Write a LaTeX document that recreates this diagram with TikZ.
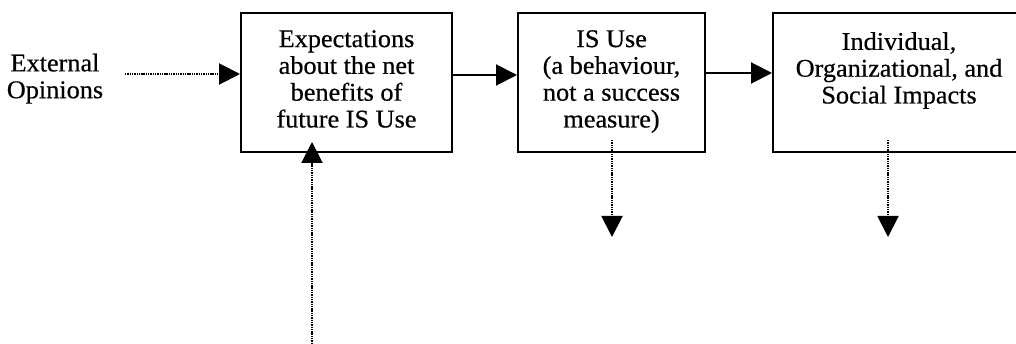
\documentclass[tikz,border=0pt]{standalone}
\usepackage{fontspec}
\setmainfont{Liberation Serif}[FakeStretch=1.03,FakeBold=0.5]
\usetikzlibrary{arrows.meta}
\begin{document}
\begin{tikzpicture}[x=1pt,y=-1pt,
  box/.style={draw,line width=2pt,inner sep=0pt},
  txt/.style={align=center,inner sep=0pt,font=\fontsize{25.5}{26.8}\selectfont},
  tip/.style={-{Triangle[length=21pt,width=21pt]}},
  solidarr/.style={line width=2pt,tip},
  dotarr/.style={line width=2pt,dash pattern=on 1.4pt off 0.9pt,tip}]
\useasboundingbox (0,0) rectangle (1016,344);
\node[box,minimum width=211pt,minimum height=139pt] (b1) at (346.5,82.5) {};
\node[box,minimum width=187pt,minimum height=139pt] (b2) at (611.5,82.5) {};
\node[box,minimum width=260pt,minimum height=139pt] (b3) at (903,82.5) {};
\node[txt,anchor=north] (t1) at (346.5,30) {Expectations\\about the net\\benefits of\\future IS Use};
\node[txt,anchor=north] (t2) at (611.5,30) {IS Use\\(a behaviour,\\not a success\\measure)};
\node[txt,anchor=north] (t3) at (899,32) {Individual,\\Organizational, and\\Social Impacts};
\node[txt,anchor=north] (ext) at (55,53.5) {External\\Opinions};
\coordinate (e0) at (125,74);
\coordinate (u0) at (312,344);
\coordinate (u1) at (312,142);
\coordinate (d1a) at (612,140);
\coordinate (d1b) at (612,237);
\coordinate (d2a) at (888,140);
\coordinate (d2b) at (888,237);
\draw[dotarr] (e0) -- (e0 -| b1.west);
\draw[solidarr] (b1.east |- 0,75) -- (b2.west |- 0,75);
\draw[solidarr] (b2.east |- 0,73) -- (b3.west |- 0,73);
\draw[dotarr] (u0) -- (u1);
\draw[dotarr] (d1a) -- (d1b);
\draw[dotarr] (d2a) -- (d2b);
\end{tikzpicture}
\end{document}
